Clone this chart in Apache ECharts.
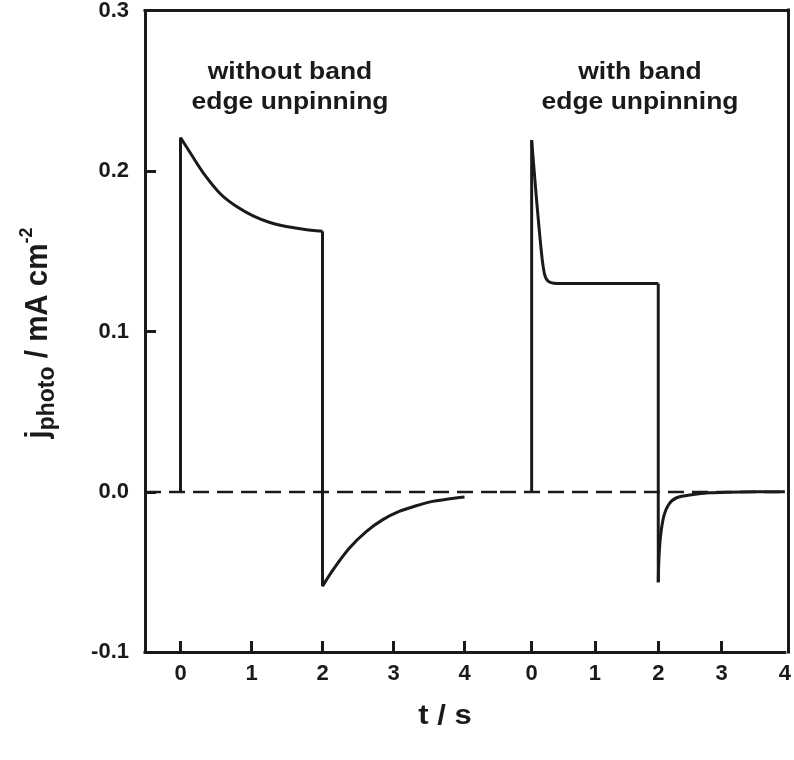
<!DOCTYPE html>
<html>
<head>
<meta charset="utf-8">
<script src="https://cdn.jsdelivr.net/npm/echarts@6/dist/echarts.min.js"></script>
<style>
  html, body { margin: 0; padding: 0; background: #ffffff; }
  #chart { width: 794px; height: 760px; }
</style>
</head>
<body>
<div id="chart"></div>
<script>
// Tick positions and labels
const timeTicks = [0, 1, 2, 3, 4];
const timeTickLabels = ['0', '1', '2', '3', '4'];
const currentTicks = [-0.1, 0, 0.1, 0.2, 0.3];
const currentTickLabels = ['-0.1', '0.0', '0.1', '0.2', '0.3'];

// Photocurrent transient without band edge unpinning (t in s, j in mA cm^-2)
const pinnedRiseT = [0, 0];
const pinnedRiseJ = [0, 0.221];
const pinnedOnT = [0, 0.13, 0.32, 0.56, 0.79, 1.03, 1.26, 1.49, 1.73, 2.0];
const pinnedOnJ = [0.221, 0.212, 0.199, 0.186, 0.178, 0.172, 0.168, 0.1655, 0.1638, 0.1625];
const pinnedDropT = [2.0, 2.0];
const pinnedDropJ = [0.1625, -0.059];
const pinnedOffT = [2.0, 2.15, 2.38, 2.62, 2.85, 3.08, 3.32, 3.55, 3.79, 4.0];
const pinnedOffJ = [-0.059, -0.0486, -0.0351, -0.0247, -0.0174, -0.0123, -0.0087, -0.006, -0.0044, -0.0033];

// Photocurrent transient with band edge unpinning
const unpinnedRiseT = [0, 0];
const unpinnedRiseJ = [0, 0.219];
const unpinnedOnT = [0, 0.06, 0.115, 0.167, 0.2, 0.23, 0.28, 0.35, 0.5, 1.0, 1.5, 2.0];
const unpinnedOnJ = [0.219, 0.19, 0.165, 0.1445, 0.136, 0.1325, 0.1305, 0.1298, 0.1296, 0.1296, 0.1296, 0.1296];
const unpinnedDropT = [2.0, 2.0];
const unpinnedDropJ = [0.1296, -0.0565];
const unpinnedOffT = [2.0, 2.01, 2.036, 2.088, 2.165, 2.29, 2.55, 2.81, 3.1, 3.5, 4.0];
const unpinnedOffJ = [-0.0565, -0.0424, -0.0278, -0.0154, -0.0081, -0.0039, -0.0019, -0.0008, -0.0004, -0.0002, -0.0001];

const ink = '#1a1a1a';
const font = '"Liberation Sans", Arial, sans-serif';
const widen = 1.15; // the lettering is set slightly wide

const pairs = (xs, ys) => xs.map((x, i) => [x, ys[i]]);

function curve(xs, ys, grid, smooth) {
  return {
    type: 'line',
    xAxisIndex: grid,
    yAxisIndex: grid,
    data: pairs(xs, ys),
    showSymbol: false,
    symbol: 'none',
    smooth: smooth ? 0.3 : false,
    lineStyle: { color: ink, width: 3, join: 'round', cap: 'butt' },
    silent: true,
    z: 3
  };
}

function zeroLine(grid) {
  return {
    type: 'line',
    xAxisIndex: grid,
    yAxisIndex: grid,
    data: [],
    silent: true,
    markLine: {
      silent: true,
      symbol: ['none', 'none'],
      label: { show: false },
      lineStyle: { color: ink, width: 2.4, type: [16, 8] },
      data: [{ yAxis: 0 }],
      z: 2
    }
  };
}

const frameLine = { show: true, onZero: false, lineStyle: { color: ink, width: 3, cap: 'square' } };
const noLine = { show: false };
const tickStyle = { show: true, inside: true, length: 11, lineStyle: { color: ink, width: 3 } };
const tickText = { color: ink, fontSize: 22, fontWeight: 'bold', fontFamily: font };

// tick marks that fall on the outer box are left to the box itself
function timeAxis(grid, max) {
  return {
    gridIndex: grid, type: 'value', min: -0.5, max: max, position: 'bottom',
    axisLine: frameLine,
    axisTick: Object.assign({}, tickStyle, { customValues: timeTicks.filter(v => v < max) }),
    axisLabel: Object.assign({}, tickText, {
      customValues: timeTicks, margin: 11,
      formatter: v => timeTickLabels[timeTicks.indexOf(v)]
    }),
    splitLine: { show: false }
  };
}

const chart = echarts.init(document.getElementById('chart'), null, { renderer: 'canvas' });

chart.setOption({
  animation: false,
  backgroundColor: '#ffffff',
  grid: [
    { left: 145, top: 10, width: 355, height: 642 },
    { left: 500, top: 10, width: 288, height: 642 },
    // outer box shared by both panels
    { left: 145, top: 10, width: 643, height: 642 }
  ],
  xAxis: [
    timeAxis(0, 4.5),
    timeAxis(1, 4),
    {
      gridIndex: 2, type: 'value', min: 0, max: 1, position: 'top',
      axisLine: frameLine, axisTick: { show: false }, axisLabel: { show: false },
      splitLine: { show: false }
    }
  ],
  yAxis: [
    {
      gridIndex: 0, type: 'value', min: -0.1, max: 0.3, position: 'left',
      axisLine: frameLine,
      axisTick: Object.assign({}, tickStyle, { customValues: currentTicks.slice(1, -1) }),
      axisLabel: Object.assign({}, tickText, {
        customValues: currentTicks, margin: 16,
        formatter: v => currentTickLabels[currentTicks.findIndex(c => Math.abs(c - v) < 1e-9)]
      }),
      splitLine: { show: false }
    },
    {
      gridIndex: 1, type: 'value', min: -0.1, max: 0.3, position: 'left',
      axisLine: noLine, axisTick: { show: false }, axisLabel: { show: false },
      splitLine: { show: false }
    },
    {
      gridIndex: 2, type: 'value', min: 0, max: 1, position: 'right',
      axisLine: frameLine, axisTick: { show: false }, axisLabel: { show: false },
      splitLine: { show: false }
    }
  ],
  series: [
    zeroLine(0),
    zeroLine(1),
    curve(pinnedRiseT, pinnedRiseJ, 0, false),
    curve(pinnedOnT, pinnedOnJ, 0, true),
    curve(pinnedDropT, pinnedDropJ, 0, false),
    curve(pinnedOffT, pinnedOffJ, 0, true),
    curve(unpinnedRiseT, unpinnedRiseJ, 1, false),
    curve(unpinnedOnT, unpinnedOnJ, 1, true),
    curve(unpinnedDropT, unpinnedDropJ, 1, false),
    curve(unpinnedOffT, unpinnedOffJ, 1, true)
  ],
  graphic: [
    {
      type: 'text', x: 290, y: 58, scaleX: widen, silent: true,
      style: {
        text: 'without band\nedge unpinning', textAlign: 'center', textVerticalAlign: 'top',
        fill: ink, fontSize: 23, fontWeight: 'bold', fontFamily: font, lineHeight: 29.5
      }
    },
    {
      type: 'text', x: 640, y: 58, scaleX: widen, silent: true,
      style: {
        text: 'with band\nedge unpinning', textAlign: 'center', textVerticalAlign: 'top',
        fill: ink, fontSize: 23, fontWeight: 'bold', fontFamily: font, lineHeight: 29.5
      }
    },
    {
      type: 'text', x: 445, y: 717, scaleX: widen, silent: true,
      style: {
        text: 't / s', textAlign: 'center', textVerticalAlign: 'middle',
        fill: ink, fontSize: 27, fontWeight: 'bold', fontFamily: font
      }
    },
    {
      type: 'text', x: 38, y: 333, rotation: Math.PI / 2, scaleY: 1.06, silent: true,
      style: {
        text: '{m|j}{sub|photo}{m| / mA cm}{sup|-2}',
        textAlign: 'center', textVerticalAlign: 'middle',
        fill: ink, fontWeight: 'bold', fontFamily: font,
        rich: {
          m: { fontSize: 29.5, fontWeight: 'bold', fontFamily: font, fill: ink, lineHeight: 40, verticalAlign: 'middle' },
          sub: { fontSize: 23, fontWeight: 'bold', fontFamily: font, fill: ink, lineHeight: 22, verticalAlign: 'bottom' },
          sup: { fontSize: 18, fontWeight: 'bold', fontFamily: font, fill: ink, lineHeight: 18, verticalAlign: 'top' }
        }
      }
    }
  ]
});
</script>
</body>
</html>
